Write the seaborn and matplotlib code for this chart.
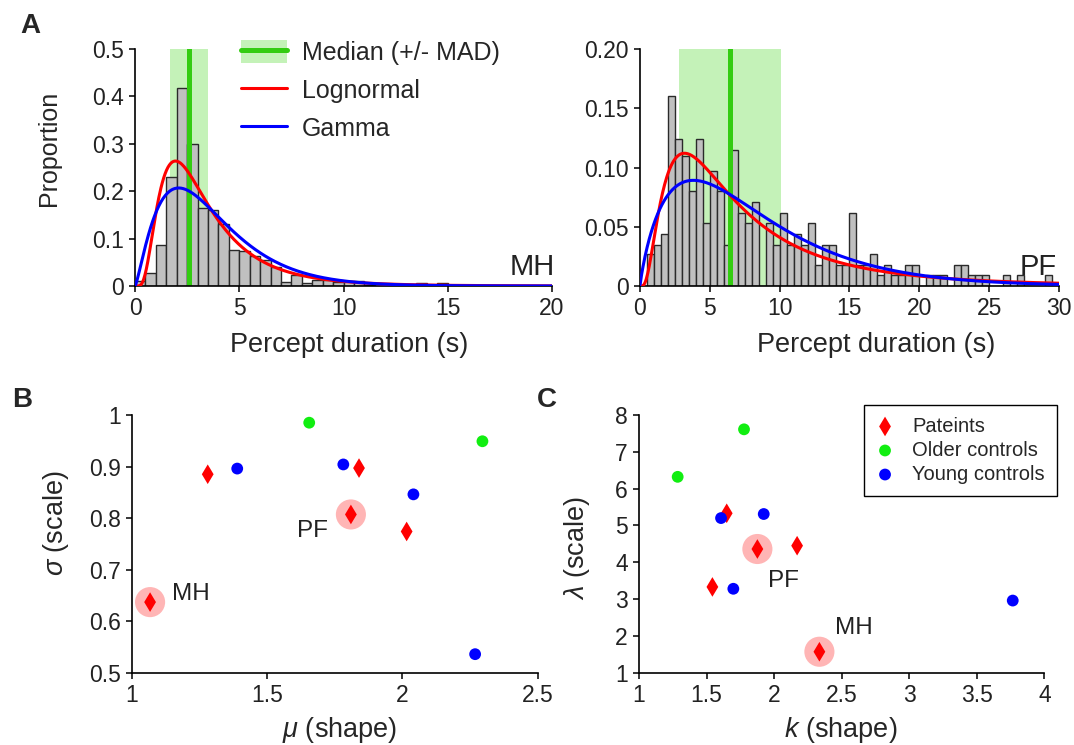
import math
import numpy as np
import pandas as pd
import matplotlib
matplotlib.use("Agg")
import matplotlib.pyplot as plt
from matplotlib.lines import Line2D
from matplotlib.patches import Patch
import seaborn as sns

# --- histogram heights (proportion per s), 0.5 s bins -------------------
bin_w = 0.5
mh_hist = [0.010, 0.028, 0.087, 0.229, 0.417, 0.300, 0.165, 0.160, 0.130, 0.077,
           0.073, 0.063, 0.054, 0.040, 0.008, 0.023, 0.006, 0.013, 0.013, 0.009,
           0.010, 0.010, 0.003, 0.000, 0.000, 0.000, 0.000, 0.007, 0.000, 0.007,
           0.000, 0.000, 0.000, 0.000, 0.000, 0.000, 0.000, 0.000, 0.000, 0.000]
pf_hist = [0.000, 0.027, 0.035, 0.044, 0.160, 0.124, 0.110, 0.080, 0.124, 0.053,
           0.097, 0.080, 0.035, 0.115, 0.062, 0.053, 0.071, 0.000, 0.053, 0.035,
           0.062, 0.035, 0.044, 0.035, 0.053, 0.018, 0.035, 0.035, 0.018, 0.018,
           0.062, 0.018, 0.018, 0.027, 0.009, 0.018, 0.009, 0.009, 0.018, 0.018,
           0.000, 0.009, 0.009, 0.009, 0.000, 0.018, 0.018, 0.009, 0.009, 0.009,
           0.000, 0.000, 0.009, 0.000, 0.009, 0.000, 0.000, 0.000, 0.009, 0.000]
mh_median, mh_mad = 2.6, 0.9
pf_median, pf_mad = 6.45, 3.65

# --- fitted parameters per subject ---------------------------------------
# patients: index 0 = MH, index 3 = PF
pat_mu = [1.068, 1.281, 1.840, 1.810, 2.016]
pat_sigma = [0.637, 0.885, 0.897, 0.807, 0.774]
old_mu = [1.656, 2.296]
old_sigma = [0.985, 0.949]
young_mu = [1.390, 1.782, 2.041, 2.269]
young_sigma = [0.896, 0.904, 0.846, 0.536]

pat_k = [2.335, 1.543, 2.170, 1.876, 1.649]
pat_lam = [1.57, 3.33, 4.45, 4.36, 5.33]
old_k = [1.286, 1.777]
old_lam = [6.32, 7.61]
young_k = [1.607, 1.923, 1.698, 3.766]
young_lam = [5.20, 5.31, 3.28, 2.96]

MH, PF = 0, 3

sns.set_theme(style="ticks")
plt.rcParams["font.family"] = ["Liberation Sans", "DejaVu Sans"]
plt.rcParams["mathtext.fontset"] = "custom"
plt.rcParams["mathtext.it"] = "Liberation Sans:italic"
plt.rcParams["mathtext.rm"] = "Liberation Sans"
plt.rcParams["xtick.direction"] = "out"
plt.rcParams["ytick.direction"] = "out"

TICK_FS = 16.5
LAB_FS = 19.5
tick_col = "#222222"

fig = plt.figure(figsize=(10.74, 7.45), dpi=100)
ax_mh = fig.add_axes([0.1257, 0.6161, 0.3883, 0.3181])
ax_pf = fig.add_axes([0.5959, 0.6161, 0.3901, 0.3181])
ax_b = fig.add_axes([0.1226, 0.0970, 0.3780, 0.3460])
ax_c = fig.add_axes([0.5950, 0.0970, 0.3774, 0.3460])

green = "#33cc11"
band = "#c4f2b8"


def lognorm_pdf(x, mu, s):
    return np.exp(-(np.log(x) - mu) ** 2 / (2 * s ** 2)) / (x * s * math.sqrt(2 * math.pi))


def gamma_pdf(x, k, lam):
    return x ** (k - 1) * np.exp(-x / lam) / (math.gamma(k) * lam ** k)


def place_labels(ax, xl, yl):
    ax.xaxis.label.set_va("center")
    ax.yaxis.label.set_va("center")
    ax.xaxis.set_label_coords(*xl)
    ax.yaxis.set_label_coords(*yl)


def hist_panel(ax, heights, xmax, median, mad, mu, s, k, lam):
    n = len(heights)
    df = pd.DataFrame({"t": (np.arange(n) + 0.5) * bin_w, "h": heights})
    ax.axvspan(median - mad, median + mad, color=band, lw=0, zorder=0.5)
    sns.histplot(data=df, x="t", weights="h", binwidth=bin_w, binrange=(0, n * bin_w),
                 stat="count", color="#c0c0c0", edgecolor="#2a2a2a", linewidth=1.0,
                 alpha=1, ax=ax, zorder=1)
    ax.axvline(median, color=green, lw=3.6, zorder=2)
    xs = np.linspace(0.01, xmax, 600)
    sns.lineplot(x=xs, y=lognorm_pdf(xs, mu, s), color="red", lw=2.2, ax=ax, zorder=3)
    sns.lineplot(x=xs, y=gamma_pdf(xs, k, lam), color="blue", lw=2.2, ax=ax, zorder=4)
    ax.set_xlim(0, xmax)
    ax.set_xlabel("Percept duration (s)", fontsize=LAB_FS)
    ax.set_ylabel("")


hist_panel(ax_mh, mh_hist, 20, mh_median, mh_mad,
           pat_mu[MH], pat_sigma[MH], pat_k[MH], pat_lam[MH])
ax_mh.set_ylim(0, 0.5)
ax_mh.set_xticks([0, 5, 10, 15, 20])
ax_mh.set_yticks([0, 0.1, 0.2, 0.3, 0.4, 0.5])
ax_mh.set_yticklabels(["0", "0.1", "0.2", "0.3", "0.4", "0.5"])
ax_mh.set_ylabel("Proportion", fontsize=18)
place_labels(ax_mh, (0.514, -0.249), (-0.206, 0.58))
ax_mh.text(1.007, 0.08, "MH", transform=ax_mh.transAxes, ha="right", va="center",
           fontsize=21, color="#222222")

hist_panel(ax_pf, pf_hist, 30, pf_median, pf_mad,
           pat_mu[PF], pat_sigma[PF], pat_k[PF], pat_lam[PF])
ax_pf.set_ylim(0, 0.2)
ax_pf.set_xticks([0, 5, 10, 15, 20, 25, 30])
ax_pf.set_yticks([0, 0.05, 0.10, 0.15, 0.20])
ax_pf.set_yticklabels(["0", "0.05", "0.10", "0.15", "0.20"])
place_labels(ax_pf, (0.563, -0.249), (-0.15, 0.5))
ax_pf.text(0.995, 0.08, "PF", transform=ax_pf.transAxes, ha="right", va="center",
           fontsize=21, color="#222222")

handles = [(Patch(facecolor=band, edgecolor="none"), Line2D([], [], color=green, lw=3.6)),
           Line2D([], [], color="red", lw=2.2),
           Line2D([], [], color="blue", lw=2.2)]
ax_mh.legend(handles, ["Median (+/- MAD)", "Lognormal", "Gamma"], loc="upper left",
             bbox_to_anchor=(0.254, 1.04), frameon=False, fontsize=18,
             handlelength=1.85, handleheight=1.05, handletextpad=0.6,
             labelspacing=0.52, borderpad=0, borderaxespad=0)

# --- scatter panels -------------------------------------------------------
hl = "#ffb5b5"


def scatter_panel(ax, px, py, ox, oy, yx, yy):
    sns.scatterplot(x=[px[MH], px[PF]], y=[py[MH], py[PF]], s=470, color=hl,
                    edgecolor="none", ax=ax, zorder=2)
    sns.scatterplot(x=px, y=py, marker="d", s=100, color="red", edgecolor="none",
                    ax=ax, zorder=3, label="Pateints")
    sns.scatterplot(x=ox, y=oy, marker="o", s=72, color="#11ee11", edgecolor="none",
                    ax=ax, zorder=3, label="Older controls")
    sns.scatterplot(x=yx, y=yy, marker="o", s=72, color="blue", edgecolor="none",
                    ax=ax, zorder=3, label="Young controls")


scatter_panel(ax_b, pat_mu, pat_sigma, old_mu, old_sigma, young_mu, young_sigma)
ax_b.get_legend().remove()
ax_b.set_xlim(1, 2.5)
ax_b.set_ylim(0.5, 1)
ax_b.set_xticks([1, 1.5, 2, 2.5])
ax_b.set_xticklabels(["1", "1.5", "2", "2.5"])
ax_b.set_yticks([0.5, 0.6, 0.7, 0.8, 0.9, 1])
ax_b.set_yticklabels(["0.5", "0.6", "0.7", "0.8", "0.9", "1"])
ax_b.set_xlabel(r"$\mu$ (shape)", fontsize=LAB_FS)
ax_b.set_ylabel(r"$\sigma$ (scale)", fontsize=LAB_FS)
place_labels(ax_b, (0.513, -0.222), (-0.1865, 0.58))
ax_b.text(pat_mu[MH] + 0.08, pat_sigma[MH] + 0.015, "MH", fontsize=17.5,
          ha="left", va="center", color="#222222")
ax_b.text(pat_mu[PF] - 0.085, pat_sigma[PF] - 0.033, "PF", fontsize=17.5,
          ha="right", va="center", color="#222222")

scatter_panel(ax_c, pat_k, pat_lam, old_k, old_lam, young_k, young_lam)
ax_c.set_xlim(1, 4)
ax_c.set_ylim(1, 8)
ax_c.set_xticks([1, 1.5, 2, 2.5, 3, 3.5, 4])
ax_c.set_xticklabels(["1", "1.5", "2", "2.5", "3", "3.5", "4"])
ax_c.set_yticks(range(1, 9))
ax_c.set_xlabel(r"$k$ (shape)", fontsize=LAB_FS)
ax_c.set_ylabel(r"$\lambda$ (scale)", fontsize=LAB_FS)
place_labels(ax_c, (0.498, -0.222), (-0.153, 0.484))
ax_c.text(pat_k[PF] + 0.08, pat_lam[PF] - 0.87, "PF", fontsize=17.5,
          ha="left", va="center", color="#222222")
ax_c.text(pat_k[MH] + 0.115, pat_lam[MH] + 0.64, "MH", fontsize=17.5,
          ha="left", va="center", color="#222222")
leg = ax_c.legend(loc="upper right", bbox_to_anchor=(1.031, 1.04), fontsize=14.5,
                  frameon=True, fancybox=False, edgecolor="black", framealpha=1,
                  borderpad=0.6, handlelength=0.9, handletextpad=0.9,
                  labelspacing=0.25, borderaxespad=0)
leg.get_frame().set_linewidth(1.0)

for ax in (ax_mh, ax_pf, ax_b, ax_c):
    sns.despine(ax=ax)
    ax.tick_params(labelsize=TICK_FS, length=4, width=1.1, colors="black",
                   labelcolor=tick_col, pad=4)
    for sp in ("left", "bottom"):
        ax.spines[sp].set_linewidth(1.2)
        ax.spines[sp].set_color("black")
    ax.set_facecolor("white")
    ax.grid(False)

for letter, x, y in (("A", 0.028, 0.965), ("B", 0.021, 0.463), ("C", 0.509, 0.463)):
    fig.text(x, y, letter, fontsize=20, fontweight="bold", ha="center", va="center")

fig.savefig("out.png", dpi=100, facecolor="white")
